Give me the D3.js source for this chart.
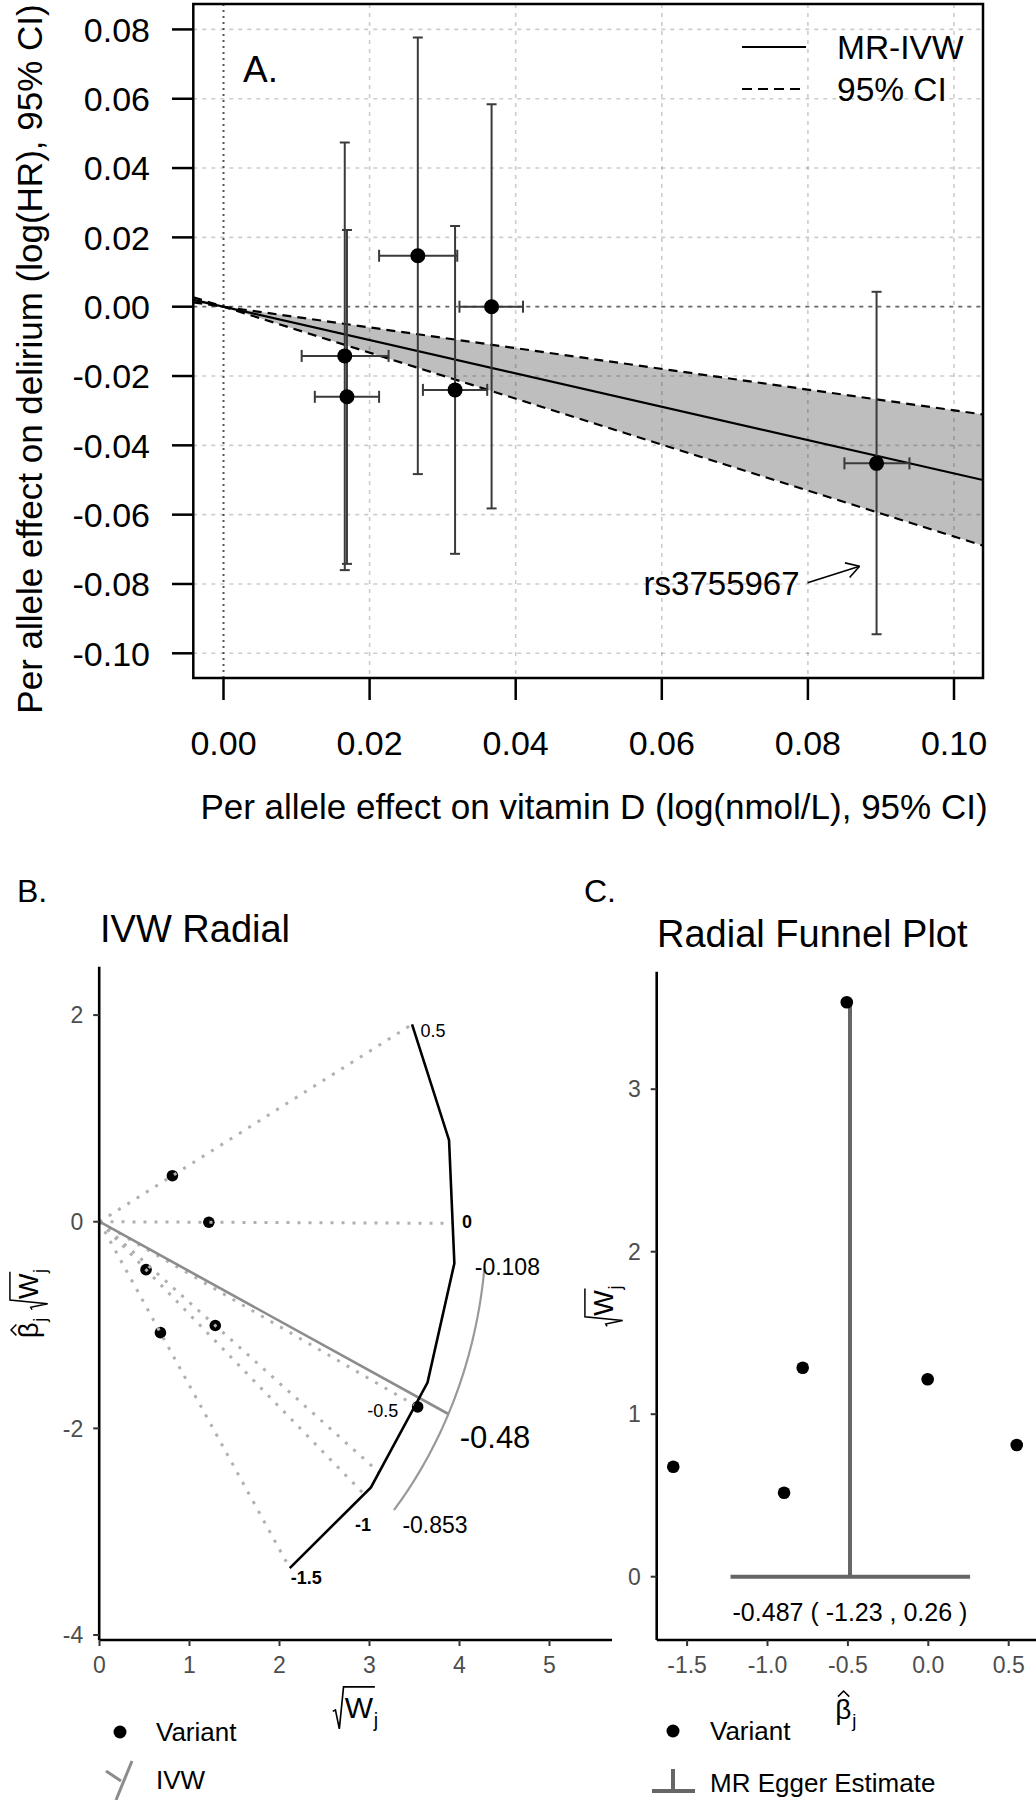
<!DOCTYPE html>
<html><head><meta charset="utf-8">
<script src="https://cdn.jsdelivr.net/npm/d3@7"></script>
<style>
body{margin:0;background:#fff}
text{font-family:"Liberation Sans",Arial,Helvetica,sans-serif}
</style>
</head><body>
<svg id="chart" width="1036" height="1800" xmlns="http://www.w3.org/2000/svg"></svg>
<script>
// ---------------- Panel A data ----------------
const snpVitD   = [0.0166, 0.0169, 0.0266, 0.0317, 0.0367, 0.0894];
const snpVitDLo = [0.0107, 0.0125, 0.0213, 0.0273, 0.0323, 0.0850];
const snpVitDHi = [0.0226, 0.0213, 0.0320, 0.0361, 0.0410, 0.0939];
const snpDel    = [-0.0142, -0.0260, 0.0147, -0.0240, 0.0000, -0.0452];
const snpDelLo  = [-0.0760, -0.0742, -0.0483, -0.0713, -0.0582, -0.0945];
const snpDelHi  = [0.0474, 0.0221, 0.0777, 0.0233, 0.0584, 0.0043];
const ivwSlopeA = -0.481;
const ivwSlopeCI = [-0.663, -0.299];
const xTicksA = [0.00, 0.02, 0.04, 0.06, 0.08, 0.10];
const yTicksA = [0.08, 0.06, 0.04, 0.02, 0.00, -0.02, -0.04, -0.06, -0.08, -0.10];
const legendA = ["MR-IVW", "95% CI"];
const labelledSnp = "rs3755967";
const labelledIndex = 5;

// ---------------- Panels B & C data ----------------
const betaJ  = [0.55, -0.004, -0.897, -0.781, -1.586, -0.507];
const sqrtWJ = [0.81, 1.215, 0.517, 1.286, 0.677, 3.535];
const ivwEst = -0.48, ivwLo = -0.853, ivwHi = -0.108;
const scaleLabelsB = [0.5, 0, -0.5, -1, -1.5];
const eggerEst = -0.487, eggerLo = -1.23, eggerHi = 0.26;
const xTicksB = [0, 1, 2, 3, 4, 5];
const yTicksB = [2, 0, -2, -4];
const xTicksC = [-1.5, -1.0, -0.5, 0.0, 0.5];
const yTicksC = [0, 1, 2, 3];

const svg = d3.select("#chart");

// ---- math label helpers (local coords: baseline y=0) ----
function addBetaHat(p, x0, fs){
  p.append("text").attr("x",x0).attr("y",0).attr("font-size",fs).text("β");
  p.append("path").attr("d",`M${x0+0.10*fs},${-0.80*fs} L${x0+0.30*fs},${-1.0*fs} L${x0+0.50*fs},${-0.80*fs}`)
    .attr("fill","none").attr("stroke","#000").attr("stroke-width",fs*0.055);
  const w = 0.58*fs;
  p.append("text").attr("x",x0+w+0.03*fs).attr("y",0.3*fs).attr("font-size",0.66*fs).text("j");
  return x0 + w + 0.03*fs + 0.16*fs;
}
function addSqrtW(p, x0, fs){
  const wW = 0.944*fs, top = -1.04*fs;
  const endO = x0 + 0.4*fs + wW + 0.06*fs;
  p.append("path").attr("d",
    `M${x0},${-0.22*fs} L${x0+0.09*fs},${-0.27*fs} L${x0+0.22*fs},${0.36*fs} L${x0+0.36*fs},${top} L${endO},${top}`)
    .attr("fill","none").attr("stroke","#000").attr("stroke-width",fs*0.055).attr("stroke-linejoin","miter");
  p.append("text").attr("x",x0+0.4*fs).attr("y",0).attr("font-size",fs).text("W");
  p.append("text").attr("x",x0+0.4*fs+wW+0.02*fs).attr("y",0.3*fs).attr("font-size",0.66*fs).text("j");
  return x0 + 0.4*fs + wW + 0.02*fs + 0.16*fs;
}
function mathLabel(parent, transform, parts, fs){
  const outer = parent.append("g").attr("transform",transform);
  const inner = outer.append("g");
  let xx = 0;
  parts.forEach((part,i)=>{
    if (i>0) xx += 0.28*fs;
    xx = part === "beta" ? addBetaHat(inner, xx, fs) : addSqrtW(inner, xx, fs);
  });
  inner.attr("transform",`translate(${-xx/2},0)`);
}

// =============== PANEL A ===============
(function(){
  const box = {l:193.3, t:4, r:983, b:678};
  const x = d3.scaleLinear().domain([0, 0.10]).range([223.5, 954]);
  const y = d3.scaleLinear().domain([0, -0.10]).range([306.7, 653.3]);
  const g = svg.append("g");
  g.append("clipPath").attr("id","clipA").append("rect")
    .attr("x",box.l).attr("y",box.t).attr("width",box.r-box.l).attr("height",box.b-box.t);
  const pc = g.append("g").attr("clip-path","url(#clipA)");
  const x0 = x.invert(box.l), x1 = x.invert(box.r);

  const band = [[x0, ivwSlopeCI[0]*x0],[x1, ivwSlopeCI[0]*x1],[x1, ivwSlopeCI[1]*x1],[x0, ivwSlopeCI[1]*x0]];
  pc.append("path").attr("d", d3.line().x(d=>x(d[0])).y(d=>y(d[1]))(band)+"Z")
    .attr("fill","#bebebe");

  xTicksA.forEach(v=>{
    pc.append("line").attr("x1",x(v)).attr("x2",x(v)).attr("y1",box.t).attr("y2",box.b)
      .attr("stroke", v===0 ? "#555" : "rgba(0,0,0,0.2)")
      .attr("stroke-width", v===0 ? 2 : 1.6)
      .attr("stroke-dasharray", v===0 ? "2,4" : "4,5");
  });
  yTicksA.forEach(v=>{
    pc.append("line").attr("x1",box.l).attr("x2",box.r).attr("y1",y(v)).attr("y2",y(v))
      .attr("stroke", Math.abs(v)<1e-9 ? "rgba(0,0,0,0.6)" : "rgba(0,0,0,0.2)")
      .attr("stroke-width", Math.abs(v)<1e-9 ? 1.8 : 1.6)
      .attr("stroke-dasharray","4,5");
  });

  pc.append("line").attr("x1",x(x0)).attr("y1",y(ivwSlopeA*x0)).attr("x2",x(x1)).attr("y2",y(ivwSlopeA*x1))
    .attr("stroke","#000").attr("stroke-width",2.2);
  ivwSlopeCI.forEach(s=>{
    pc.append("line").attr("x1",x(x0)).attr("y1",y(s*x0)).attr("x2",x(x1)).attr("y2",y(s*x1))
      .attr("stroke","#000").attr("stroke-width",2.2).attr("stroke-dasharray","9,6");
  });

  const ebc = "#3a3a3a";
  snpVitD.forEach((vx,i)=>{
    const cx = x(vx), cy = y(snpDel[i]);
    pc.append("line").attr("x1",cx).attr("x2",cx).attr("y1",y(snpDelLo[i])).attr("y2",y(snpDelHi[i]))
      .attr("stroke",ebc).attr("stroke-width",2);
    [snpDelLo[i], snpDelHi[i]].forEach(v=>{
      pc.append("line").attr("x1",cx-5).attr("x2",cx+5).attr("y1",y(v)).attr("y2",y(v))
        .attr("stroke",ebc).attr("stroke-width",2);
    });
    pc.append("line").attr("x1",x(snpVitDLo[i])).attr("x2",x(snpVitDHi[i])).attr("y1",cy).attr("y2",cy)
      .attr("stroke",ebc).attr("stroke-width",2);
    [snpVitDLo[i], snpVitDHi[i]].forEach(v=>{
      pc.append("line").attr("x1",x(v)).attr("x2",x(v)).attr("y1",cy-6).attr("y2",cy+6)
        .attr("stroke",ebc).attr("stroke-width",2);
    });
  });
  snpVitD.forEach((vx,i)=>{
    pc.append("circle").attr("cx",x(vx)).attr("cy",y(snpDel[i])).attr("r",7.5).attr("fill","#000");
  });

  g.append("rect").attr("x",box.l).attr("y",box.t).attr("width",box.r-box.l).attr("height",box.b-box.t)
    .attr("fill","none").attr("stroke","#000").attr("stroke-width",2.5);

  yTicksA.forEach(v=>{
    g.append("line").attr("x1",172).attr("x2",box.l).attr("y1",y(v)).attr("y2",y(v)).attr("stroke","#000").attr("stroke-width",2.5);
    g.append("text").attr("x",150).attr("y",y(v)).attr("dy","0.36em").attr("text-anchor","end")
      .attr("font-size",34).text(v.toFixed(2));
  });
  xTicksA.forEach(v=>{
    g.append("line").attr("x1",x(v)).attr("x2",x(v)).attr("y1",box.b).attr("y2",700).attr("stroke","#000").attr("stroke-width",2.5);
    g.append("text").attr("x",x(v)).attr("y",755).attr("text-anchor","middle")
      .attr("font-size",34).text(v.toFixed(2));
  });
  g.append("text").attr("x",594).attr("y",819).attr("text-anchor","middle").attr("font-size",35)
    .text("Per allele effect on vitamin D (log(nmol/L), 95% CI)");
  g.append("text").attr("transform","translate(42,359) rotate(-90)").attr("text-anchor","middle").attr("font-size",35)
    .text("Per allele effect on delirium (log(HR), 95% CI)");

  g.append("text").attr("x",243).attr("y",82).attr("font-size",37).text("A.");

  g.append("line").attr("x1",742).attr("x2",806).attr("y1",47).attr("y2",47).attr("stroke","#000").attr("stroke-width",2.2);
  g.append("line").attr("x1",742).attr("x2",806).attr("y1",89).attr("y2",89).attr("stroke","#000").attr("stroke-width",2.2).attr("stroke-dasharray","10,6");
  g.append("text").attr("x",837).attr("y",47).attr("dy","0.36em").attr("font-size",33.5).text(legendA[0]);
  g.append("text").attr("x",837).attr("y",89).attr("dy","0.36em").attr("font-size",33.5).text(legendA[1]);

  const tipX = x(snpVitD[labelledIndex]) - 17, tipY = y(snpDelLo[labelledIndex]) - 68;
  const tailX = tipX - 52, tailY = tipY + 16.6;
  g.append("text").attr("x",tailX-8).attr("y",tailY).attr("dy","0.36em").attr("text-anchor","end")
    .attr("font-size",33).text(labelledSnp);
  g.append("line").attr("x1",tailX).attr("y1",tailY).attr("x2",tipX).attr("y2",tipY).attr("stroke","#000").attr("stroke-width",1.6);
  const ang = Math.atan2(tipY-tailY, tipX-tailX);
  [ang+Math.PI*0.83, ang-Math.PI*0.83].forEach(a=>{
    g.append("line").attr("x1",tipX).attr("y1",tipY).attr("x2",tipX+15*Math.cos(a)).attr("y2",tipY+15*Math.sin(a))
      .attr("stroke","#000").attr("stroke-width",1.6);
  });
})();

// =============== PANEL B ===============
(function(){
  const x = d3.scaleLinear().domain([0, 5]).range([99.5, 549.5]);
  const y = d3.scaleLinear().domain([2, -4]).range([1015.1, 1635]);
  const g = svg.append("g");
  const axL = 99.2, axB = 1640, axT = 966.7, axR = 612;

  const ptsY = betaJ.map((b,i)=>b*sqrtWJ[i]);
  const R = d3.max(sqrtWJ.map((w,i)=>Math.hypot(w, ptsY[i])));
  const aMax = Math.atan(d3.max(betaJ)), aMin = Math.atan(d3.min(betaJ));
  const nV = 6;
  const verts = d3.range(nV).map(k=>{ const a = aMax + (aMin-aMax)*k/(nV-1); return [R*Math.cos(a), R*Math.sin(a)]; });
  const dA = (aMin-aMax)/(nV-1);
  function onArc(b){
    const a = Math.atan(b);
    let k = Math.floor((a-aMax)/dA); k = Math.max(0, Math.min(nV-2, k));
    const mid = aMax + dA*(k+0.5);
    const r = R*Math.cos(dA/2)/Math.cos(a-mid);
    return [r*Math.cos(a), r*Math.sin(a)];
  }

  sqrtWJ.forEach((w,i)=>{
    g.append("circle").attr("cx",x(w)).attr("cy",y(ptsY[i])).attr("r",5.8).attr("fill","#000");
  });
  betaJ.forEach(b=>{
    const e = onArc(b);
    g.append("line").attr("x1",x(0)).attr("y1",y(0)).attr("x2",x(e[0])).attr("y2",y(e[1]))
      .attr("stroke","#b0b0b0").attr("stroke-width",3).attr("stroke-dasharray","3,8");
  });
  const Rci = R*1.085;
  const aI = Math.atan(ivwEst);
  g.append("line").attr("x1",x(0)).attr("y1",y(0)).attr("x2",x(Rci*Math.cos(aI))).attr("y2",y(Rci*Math.sin(aI)))
    .attr("stroke","#8c8c8c").attr("stroke-width",2.6);
  const arcPts = d3.range(0,41).map(k=>{ const a = Math.atan(ivwHi) + (Math.atan(ivwLo)-Math.atan(ivwHi))*k/40; return [Rci*Math.cos(a), Rci*Math.sin(a)]; });
  g.append("path").attr("d", d3.line().x(d=>x(d[0])).y(d=>y(d[1]))(arcPts)).attr("fill","none")
    .attr("stroke","#999").attr("stroke-width",2.2);
  g.append("path").attr("d", d3.line().x(d=>x(d[0])).y(d=>y(d[1]))(verts)).attr("fill","none")
    .attr("stroke","#000").attr("stroke-width",2.6);

  scaleLabelsB.forEach(b=>{
    const a = Math.atan(b);
    const r = R*(b === 0 ? 1.03 : 1.045);
    let anchor = "middle";
    let px = x(r*Math.cos(a)), py = y(r*Math.sin(a));
    if (b === -0.5) { const e = onArc(b); px = x(e[0]) - 18; py = y(e[1]) + 7; anchor = "end"; }
    g.append("text").attr("x",px).attr("y",py).attr("dy","0.36em").attr("text-anchor",anchor)
      .attr("font-size",18).attr("font-weight", (b===0||b<=-1)?"bold":"normal").text(String(b));
  });
  const lab = (b, r, txt, fs, dx, dy) => {
    const a = Math.atan(b);
    g.append("text").attr("x",x(r*Math.cos(a))+dx).attr("y",y(r*Math.sin(a))+dy).attr("dy","0.36em")
      .attr("text-anchor","middle").attr("font-size",fs).text(txt);
  };
  lab(ivwHi, R*1.15, String(ivwHi), 23, 0, -6);
  lab(ivwLo, R*1.17, String(ivwLo), 23, 18, -8);
  lab(ivwEst, R*1.23, ivwEst.toFixed(2), 31, 0, -3);

  g.append("line").attr("x1",axL).attr("x2",axL).attr("y1",axT).attr("y2",axB).attr("stroke","#000").attr("stroke-width",2.6);
  g.append("line").attr("x1",axL).attr("x2",axR).attr("y1",axB).attr("y2",axB).attr("stroke","#000").attr("stroke-width",2.6);
  yTicksB.forEach(v=>{
    g.append("line").attr("x1",axL-6).attr("x2",axL).attr("y1",y(v)).attr("y2",y(v)).attr("stroke","#333").attr("stroke-width",2);
    g.append("text").attr("x",axL-16).attr("y",y(v)).attr("dy","0.36em").attr("text-anchor","end")
      .attr("font-size",23).attr("fill","#4d4d4d").text(v);
  });
  xTicksB.forEach(v=>{
    g.append("line").attr("x1",x(v)).attr("x2",x(v)).attr("y1",axB).attr("y2",axB+6).attr("stroke","#333").attr("stroke-width",2);
    g.append("text").attr("x",x(v)).attr("y",1673).attr("text-anchor","middle")
      .attr("font-size",23).attr("fill","#4d4d4d").text(v);
  });
  mathLabel(g, `translate(${(axL+axR)/2},1718)`, ["sqrtW"], 30);
  mathLabel(g, `translate(38,${(axT+axB)/2}) rotate(-90)`, ["beta","sqrtW"], 27);

  g.append("text").attr("x",17).attr("y",902).attr("font-size",32).text("B.");
  g.append("text").attr("x",100).attr("y",942).attr("font-size",38).text("IVW Radial");

  g.append("circle").attr("cx",120).attr("cy",1732).attr("r",6.5).attr("fill","#000");
  g.append("text").attr("x",156).attr("y",1732).attr("dy","0.36em").attr("font-size",26).text("Variant");
  g.append("line").attr("x1",106).attr("y1",1771).attr("x2",121).attr("y2",1781).attr("stroke","#8c8c8c").attr("stroke-width",3);
  g.append("line").attr("x1",132).attr("y1",1761).attr("x2",116).attr("y2",1800).attr("stroke","#8c8c8c").attr("stroke-width",3);
  g.append("text").attr("x",156).attr("y",1780).attr("dy","0.36em").attr("font-size",26).text("IVW");
})();

// =============== PANEL C ===============
(function(){
  const x = d3.scaleLinear().domain([-1.5, 0.5]).range([687.1, 1008.7]);
  const y = d3.scaleLinear().domain([0, 3]).range([1576.7, 1089.2]);
  const g = svg.append("g");
  const axL = 656.7, axB = 1640, axT = 971.7, axR = 1040;
  const topW = d3.max(sqrtWJ);

  g.append("line").attr("x1",x(eggerEst)).attr("x2",x(eggerEst)).attr("y1",y(0)).attr("y2",y(topW))
    .attr("stroke","#666").attr("stroke-width",4);
  g.append("line").attr("x1",x(eggerLo)).attr("x2",x(eggerHi)).attr("y1",y(0)).attr("y2",y(0))
    .attr("stroke","#666").attr("stroke-width",4);
  g.append("text").attr("x",x(eggerEst)).attr("y",y(0)+44).attr("text-anchor","middle").attr("font-size",25)
    .text(`${eggerEst} ( ${eggerLo} , ${eggerHi} )`);
  betaJ.forEach((b,i)=>{
    g.append("circle").attr("cx",x(b)).attr("cy",y(sqrtWJ[i])).attr("r",6.3).attr("fill","#000");
  });

  g.append("line").attr("x1",axL).attr("x2",axL).attr("y1",axT).attr("y2",axB).attr("stroke","#000").attr("stroke-width",2.6);
  g.append("line").attr("x1",axL).attr("x2",axR).attr("y1",axB).attr("y2",axB).attr("stroke","#000").attr("stroke-width",2.6);
  yTicksC.forEach(v=>{
    g.append("line").attr("x1",axL-6).attr("x2",axL).attr("y1",y(v)).attr("y2",y(v)).attr("stroke","#333").attr("stroke-width",2);
    g.append("text").attr("x",axL-16).attr("y",y(v)).attr("dy","0.36em").attr("text-anchor","end")
      .attr("font-size",23).attr("fill","#4d4d4d").text(v);
  });
  xTicksC.forEach(v=>{
    g.append("line").attr("x1",x(v)).attr("x2",x(v)).attr("y1",axB).attr("y2",axB+6).attr("stroke","#333").attr("stroke-width",2);
    g.append("text").attr("x",x(v)).attr("y",1673).attr("text-anchor","middle")
      .attr("font-size",23).attr("fill","#4d4d4d").text(v.toFixed(1));
  });
  mathLabel(g, `translate(846,1719)`, ["beta"], 28);
  mathLabel(g, `translate(613,${(axT+axB)/2}) rotate(-90)`, ["sqrtW"], 27);

  g.append("text").attr("x",584).attr("y",902).attr("font-size",32).text("C.");
  g.append("text").attr("x",657).attr("y",947).attr("font-size",38).text("Radial Funnel Plot");

  g.append("circle").attr("cx",673).attr("cy",1731).attr("r",6.5).attr("fill","#000");
  g.append("text").attr("x",710).attr("y",1731).attr("dy","0.36em").attr("font-size",26).text("Variant");
  g.append("line").attr("x1",652).attr("x2",695).attr("y1",1791).attr("y2",1791).attr("stroke","#666").attr("stroke-width",4);
  g.append("line").attr("x1",673).attr("x2",673).attr("y1",1769).attr("y2",1791).attr("stroke","#666").attr("stroke-width",4);
  g.append("text").attr("x",710).attr("y",1783).attr("dy","0.36em").attr("font-size",26).text("MR Egger Estimate");
})();
</script>
</body></html>
